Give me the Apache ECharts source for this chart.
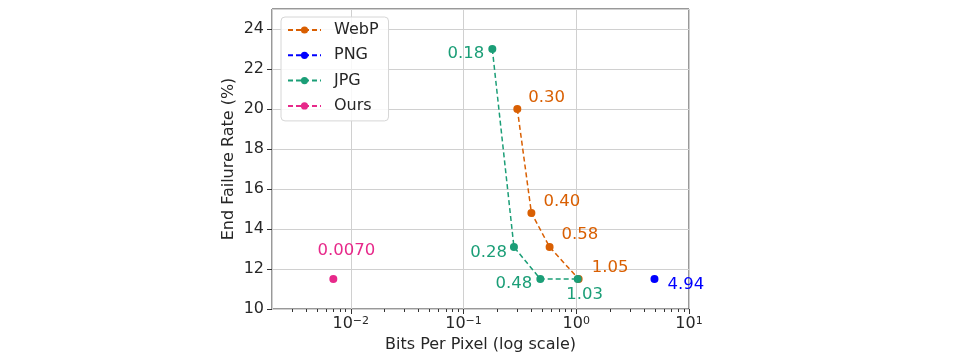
<!DOCTYPE html>
<html><head><meta charset="utf-8">
<script src="https://cdn.jsdelivr.net/npm/echarts@6/dist/echarts.min.js"></script>
<style>html,body{margin:0;padding:0;background:#fff}#c{width:960px;height:357px}</style>
</head><body><div id="c"></div>
<script>
// ---- data ----
const webpX = [0.30, 0.40, 0.58, 1.05];
const webpY = [20.0, 14.8, 13.1, 11.5];
const webpLabels = ['0.30', '0.40', '0.58', '1.05'];
const pngX = [4.94];
const pngY = [11.5];
const pngLabels = ['4.94'];
const jpgX = [0.18, 0.28, 0.48, 1.03];
const jpgY = [23.0, 13.1, 11.5, 11.5];
const jpgLabels = ['0.18', '0.28', '0.48', '1.03'];
const oursX = [0.0070];
const oursY = [11.5];
const oursLabels = ['0.0070'];
const xMajorTicks = [0.01, 0.1, 1, 10];
const xTickExponents = ['−2', '−1', '0', '1'];
const xMinorTicks = [0.003,0.004,0.005,0.006,0.007,0.008,0.009,
  0.02,0.03,0.04,0.05,0.06,0.07,0.08,0.09,
  0.2,0.3,0.4,0.5,0.6,0.7,0.8,0.9,
  2,3,4,5,6,7,8,9];

// ---- label styling (positions only) ----
const webpLabelStyle = [
  {align:'left', offset:[11,-11]}, {align:'left', offset:[12,-11]},
  {align:'left', offset:[12,-12]}, {align:'left', offset:[13,-11]}];
const pngLabelStyle = [{align:'left', offset:[13,6]}];
const jpgLabelStyle = [
  {align:'right', offset:[-8,5]}, {align:'right', offset:[-7,6]},
  {align:'right', offset:[-8,5]}, {align:'center', offset:[7,16]}];
const oursLabelStyle = [{align:'center', offset:[13,-28]}];

const FONT = 'DejaVu Sans';
const TXT = '#262626';

function mk(name, color, xs, ys, labels, lstyle) {
  return {
    name, type: 'line', color,
    symbol: 'circle', symbolSize: 8,
    lineStyle: {color, width: 1.5, type: [5, 3]},
    itemStyle: {color},
    z: 3,
    data: xs.map((x, i) => ({
      value: [x, ys[i]],
      label: {
        show: true, formatter: labels[i], position: 'inside',
        align: lstyle[i].align, verticalAlign: 'middle',
        offset: lstyle[i].offset, color, fontSize: 16.5, fontFamily: FONT
      }
    }))
  };
}

const chart = echarts.init(document.getElementById('c'), null, {renderer: 'canvas'});
chart.setOption({
  animation: false,
  backgroundColor: '#fff',
  textStyle: {fontFamily: FONT},
  grid: {left: 272, right: 271, top: 9, bottom: 48, show: true, borderColor: '#333', borderWidth: 1,
    backgroundColor: 'transparent', outerBoundsMode: 'none', containLabel: false},
  legend: {
    left: 281, top: 17, orient: 'vertical',
    backgroundColor: 'rgba(255,255,255,0.85)', borderColor: '#d6d6d6', borderWidth: 1, borderRadius: 4,
    padding: [5, 10, 7, 6], itemGap: 9.3, itemWidth: 33, itemHeight: 9,
    textStyle: {fontSize: 16, color: TXT, fontFamily: FONT, padding: [0, 0, 0, 8]},
    data: ['WebP', 'PNG', 'JPG', 'Ours']
  },
  xAxis: [{
    type: 'log', logBase: 10, min: 0.002, max: 10,
    name: 'Bits Per Pixel (log scale)', nameLocation: 'middle', nameGap: 26,
    nameTextStyle: {fontSize: 16, color: TXT, fontFamily: FONT},
    axisLine: {show: false},
    axisTick: {show: true, inside: false, length: 5, lineStyle: {color: '#333', width: 1}},
    axisLabel: {fontSize: 16, color: TXT, fontFamily: FONT, margin: 7, showMinLabel: false,
      formatter: v => { const e = Math.round(Math.log10(v)); const i = xMajorTicks.findIndex(t => Math.round(Math.log10(t)) === e); return i >= 0 ? '{a|10}{b|' + xTickExponents[i] + '}' : ''; },
      rich: {a: {fontSize: 16, color: TXT, fontFamily: FONT, lineHeight: 18, verticalAlign: 'top'},
             b: {fontSize: 11, color: TXT, fontFamily: FONT, lineHeight: 11, verticalAlign: 'top'}}},
    splitLine: {show: true, lineStyle: {color: '#d0d0d0', width: 1}}
  }, {
    type: 'log', logBase: 10, min: 0.002, max: 10, position: 'bottom', gridIndex: 0,
    axisLine: {show: false},
    axisTick: {show: true, inside: false, length: 3, lineStyle: {color: '#333', width: 1}, customValues: xMinorTicks},
    axisLabel: {show: false},
    splitLine: {show: false}
  }],
  yAxis: {
    type: 'value', min: 10, max: 25, interval: 2,
    name: 'End Failure Rate (%)', nameLocation: 'middle', nameGap: 35,
    nameTextStyle: {fontSize: 16, color: TXT, fontFamily: FONT},
    axisLine: {show: false},
    axisTick: {show: true, inside: false, length: 5, lineStyle: {color: '#333'}},
    axisLabel: {fontSize: 16, color: TXT, fontFamily: FONT, margin: 8, showMaxLabel: false},
    splitLine: {show: true, lineStyle: {color: '#d0d0d0', width: 1}}
  },
  series: [
    mk('WebP', '#d95f02', webpX, webpY, webpLabels, webpLabelStyle),
    mk('PNG', '#0000ff', pngX, pngY, pngLabels, pngLabelStyle),
    mk('JPG', '#1b9e77', jpgX, jpgY, jpgLabels, jpgLabelStyle),
    mk('Ours', '#e7298a', oursX, oursY, oursLabels, oursLabelStyle)
  ]
});
</script></body></html>
